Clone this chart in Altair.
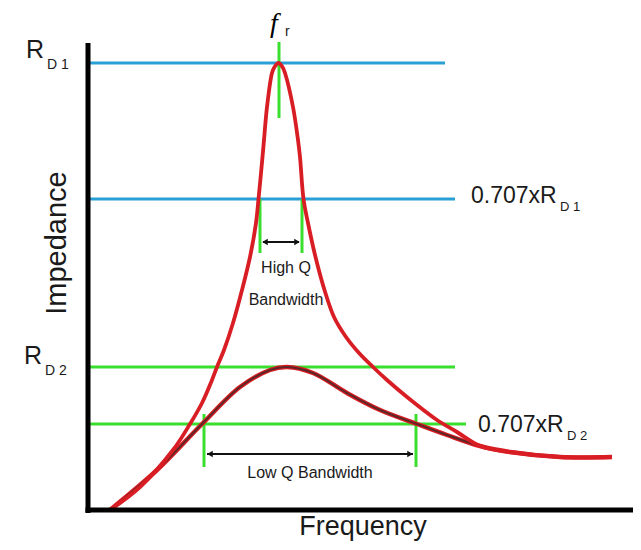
import altair as alt
import pandas as pd

# High-Q (red) resonance curve (x: frequency units, y: impedance units)
hq_x = [22, 52, 85, 102, 114, 124, 129, 136, 145, 154, 162, 168, 170.5, 174.5, 176, 179, 184, 186.5, 190.5,
        194.5, 197, 205, 210, 212, 215.5, 220, 227.5, 236.5, 246, 258, 271, 285, 299, 319, 349, 369, 392,
        422, 472, 524]
hq_y = [0, 23, 60, 86, 107, 130, 143, 160, 187, 220, 253, 287, 311, 353, 370, 403, 437, 443, 447,
        443, 437, 403, 370, 353, 311, 287, 253, 220, 193, 173, 157, 143, 130, 113, 90, 78, 64,
        58, 53, 53]

# Low-Q (brown) resonance curve
lq_x = [22, 69, 114, 152, 182, 199, 225, 259, 292, 329, 359, 392, 422, 472, 524]
lq_y = [0, 40, 86, 123, 140, 143, 137, 117, 100, 86, 75, 64, 58, 53, 53]

# Reference levels
rd1 = 447
rd1_707 = 311
rd2 = 143
rd2_707 = 86
fr = 191

# Bandwidth markers
hq_band = [172, 214]
lq_band = [116, 328]

X = alt.Scale(domain=[0, 543])
Y = alt.Scale(domain=[0, 467])


def xq(f):
    return alt.X(f, type="quantitative", scale=X, axis=None)


def yq(f):
    return alt.Y(f, type="quantitative", scale=Y, axis=None)


def rules(rows, color, width):
    df = pd.DataFrame(rows, columns=["x", "x2", "y", "y2"])
    return alt.Chart(df).mark_rule(color=color, strokeWidth=width).encode(
        x=xq("x"), x2="x2", y=yq("y"), y2="y2")


blue = "#2a9fd6"
green = "#3ade2f"

blue_lines = rules([[2, 357, rd1, rd1], [2, 367, rd1_707, rd1_707]], blue, 3)
green_h = rules([[2, 367, rd2, rd2], [2, 378, rd2_707, rd2_707]], green, 3)
green_v = rules([
    [fr, fr, 392, 468],
    [hq_band[0], hq_band[0], 257, rd1_707],
    [hq_band[1], hq_band[1], 257, rd1_707],
    [lq_band[0], lq_band[0], 43, 96],
    [lq_band[1], lq_band[1], 43, 96],
], green, 3)

arrows = rules([[hq_band[0] + 3, hq_band[1] - 3, 268, 268],
                [lq_band[0] + 3, lq_band[1] - 3, 56, 56]], "#111111", 2)
heads_l = alt.Chart(pd.DataFrame({"x": [hq_band[0] + 5, lq_band[0] + 6], "y": [268, 56]})).mark_point(
    shape="triangle-left", filled=True, color="#111111", size=40, opacity=1).encode(x=xq("x"), y=yq("y"))
heads_r = alt.Chart(pd.DataFrame({"x": [hq_band[1] - 5, lq_band[1] - 6], "y": [268, 56]})).mark_point(
    shape="triangle-right", filled=True, color="#111111", size=40, opacity=1).encode(x=xq("x"), y=yq("y"))

hq_df = pd.DataFrame({"x": hq_x, "y": hq_y, "o": range(len(hq_x))})
lq_df = pd.DataFrame({"x": lq_x, "y": lq_y, "o": range(len(lq_x))})

hq_line = alt.Chart(hq_df).mark_line(color="#d81e24", strokeWidth=3.8, interpolate="catmull-rom").encode(
    x=xq("x"), y=yq("y"), order="o:Q")
lq_outer = alt.Chart(lq_df).mark_line(color="#d81e24", strokeWidth=4.5, interpolate="catmull-rom").encode(
    x=xq("x"), y=yq("y"), order="o:Q")
lq_inner = alt.Chart(lq_df).mark_line(color="#5e2626", strokeWidth=2, interpolate="catmull-rom").encode(
    x=xq("x"), y=yq("y"), order="o:Q")

axes = rules([[0, 0, -3, 467], [-2.5, 560, 0, 0]], "#000000", 5)


def texts(rows, align="center", font="Liberation Sans", style="normal", color="#1a1a1a",
          angle=0, baseline="middle"):
    df = pd.DataFrame(rows, columns=["x", "y", "t", "s"])
    return alt.Chart(df).mark_text(align=align, baseline=baseline, font=font, fontStyle=style,
                                   color=color, angle=angle).encode(
        x=xq("x"), y=yq("y"), text="t:N", size=alt.Size("s:Q", scale=None, legend=None))


t_center = texts([
    [-53, 460, "R", 25],
    [-55, 154, "R", 25],
    [198, 242, "High Q", 16],
    [198, 210, "Bandwidth", 16],
    [222, 37, "Low Q Bandwidth", 16],
    [275, -17, "Frequency", 27],
])
t_left = texts([
    [-41, 445, "D 1", 14],
    [-43, 139, "D 2", 14],
    [383, 314, "0.707xR", 23],
    [472, 303, "D 1", 13],
    [390, 85, "0.707xR", 23],
    [479, 74, "D 2", 13],
    [197, 478, "r", 14],
], align="left")
t_f = texts([[186, 478, "f", 28]], font="Liberation Serif", style="italic", color="#000000",
            baseline="alphabetic")
t_imp = texts([[-31, 267, "Impedance", 29]], angle=270)

chart = alt.layer(
    blue_lines, green_h, green_v, arrows, heads_l, heads_r,
    lq_outer, lq_inner, hq_line, axes,
    t_center, t_left, t_f, t_imp,
).properties(
    width=543, height=467,
    padding={"left": 80, "top": 35, "right": 2, "bottom": 32},
    autosize=alt.AutoSizeParams(type="none"),
    background="white",
).configure_view(stroke=None)

chart.save("out.html", embed_options={"renderer": "svg", "actions": False})
